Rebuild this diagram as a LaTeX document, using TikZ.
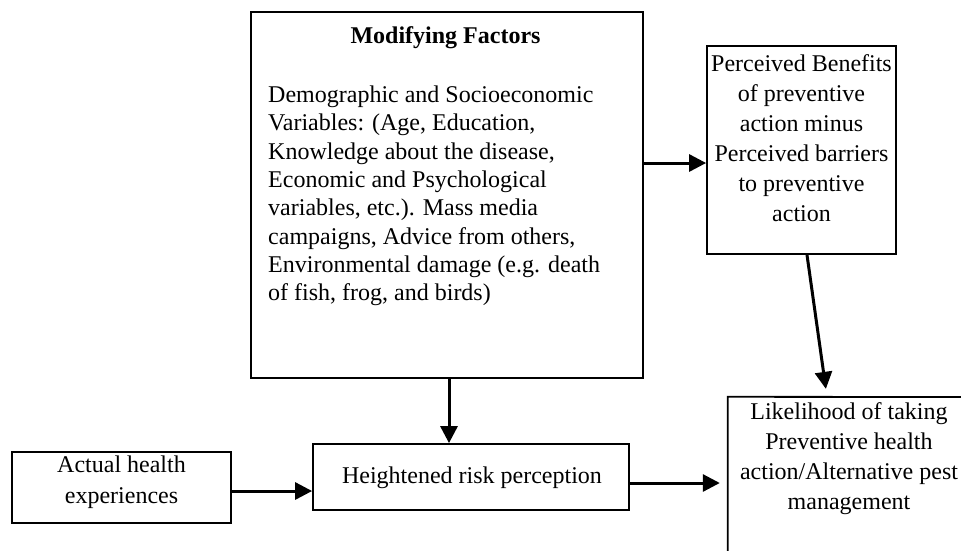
\documentclass[tikz,border=0pt]{standalone}
\usepackage{fontspec}
\setmainfont{Liberation Serif}
\usetikzlibrary{arrows.meta,calc}
\begin{document}
\begin{tikzpicture}[x=1pt,y=-1pt,
  box/.style={draw=black,line width=1.8pt,rectangle,inner sep=0pt},
  txt/.style={inner sep=0pt,align=center,font=\fontsize{24}{30}\selectfont},
  arr/.style={line width=3pt,-{Triangle[length=17pt,width=17pt]}}]
\useasboundingbox[fill=white] (0,0) rectangle (961,550);
% Modifying factors box
\node[box,minimum width=392pt,minimum height=366pt] (mod) at (447,195) {};
\node[txt,font=\fontsize{24}{28.3}\selectfont\bfseries] (modtitle) at (445.5,38) {Modifying Factors};
\node[txt,anchor=west,align=left,font=\fontsize{24}{28.3}\selectfont] (modtext) at (268,196)
 {Demographic and Socioeconomic\\Variables: (Age, Education,\\Knowledge about the disease,\\Economic and Psychological\\variables, etc.). Mass media\\campaigns, Advice from others,\\Environmental damage (e.g. death\\of fish, frog, and birds)};
% Perceived benefits box
\node[box,minimum width=189pt,minimum height=208pt] (per) at (801.5,150) {};
\node[txt] (pertext) at (801.5,138)
 {Perceived Benefits\\of preventive\\action minus\\Perceived barriers\\to preventive\\action};
% Likelihood (open box)
\node[inner sep=0pt,minimum width=242pt,minimum height=163pt] (lik) at (849,478.5) {};
\draw[line width=1.8pt] (lik.south west) -- (lik.north west) -- (961,397);
\node[txt] (liktext) at (849,458.5)
 {Likelihood of taking\\Preventive health\\action/Alternative pest\\management};
% Actual health box
\node[box,minimum width=219pt,minimum height=71pt] (act) at (121.5,487.5) {};
\node[txt,font=\fontsize{24}{31}\selectfont] (acttext) at (121.5,482.5) {Actual health\\experiences};
% Heightened risk perception box
\node[box,minimum width=316pt,minimum height=66pt] (hei) at (471,477) {};
\node[txt] (heitext) at (472,478) {Heightened risk perception};
% Connectors
\draw[arr] ([yshift=32pt]mod.east) -- ([yshift=32pt]mod.east -| per.west);
\draw[arr] ([xshift=2pt]mod.south) -- ([xshift=2pt]mod.south |- hei.north);
\draw[arr] ([yshift=-3.5pt]act.east) -- ([yshift=-3.5pt]act.east -| hei.west);
\draw[arr,shorten >=8pt] ([yshift=-6pt]hei.east) -- ([yshift=-6pt]hei.east -| lik.west);
\draw[arr,shorten >=8pt] ([xshift=5.5pt]per.south) -- ([xshift=-22pt]lik.north);
\end{tikzpicture}
\end{document}
